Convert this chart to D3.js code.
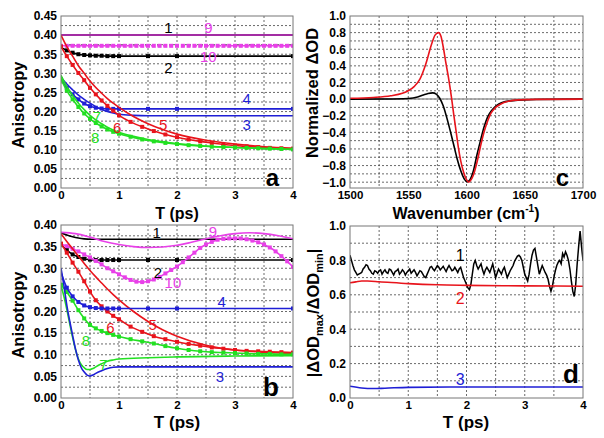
<!DOCTYPE html>
<html><head><meta charset="utf-8">
<script src="https://cdn.jsdelivr.net/npm/d3@7"></script>
<style>body{margin:0;background:#fff} svg{display:block} text{font-family:"Liberation Sans",Arial,sans-serif}</style>
</head><body><svg id="chart" width="604" height="438"></svg>
<script>
// ---------- shared time grids (ps) ----------
const TF  = [0,0.1,0.2,0.3,0.4,0.5,0.6,0.7,0.8,0.9,1.0,1.5,2.0,4.0];
const T19 = [0,0.1,0.2,0.3,0.4,0.5,0.6,0.7,0.8,0.9,1.0,1.25,1.5,1.75,2.0,2.5,3.0,3.5,4.0];
const T26 = [0,0.1,0.2,0.3,0.4,0.5,0.6,0.7,0.8,0.9,1.0,1.2,1.4,1.6,1.8,2.0,2.2,2.4,2.6,2.8,3.0,3.2,3.4,3.6,3.8,4.0];
const T41 = [0,0.1,0.2,0.3,0.4,0.5,0.6,0.7,0.8,0.9,1.0,1.1,1.2,1.3,1.4,1.5,1.6,1.7,1.8,1.9,2.0,2.1,2.2,2.3,2.4,2.5,2.6,2.7,2.8,2.9,3.0,3.1,3.2,3.3,3.4,3.5,3.6,3.7,3.8,3.9,4.0];
const T17 = [0,0.25,0.5,0.75,1.0,1.25,1.5,1.75,2.0,2.25,2.5,2.75,3.0,3.25,3.5,3.75,4.0];
const TB  = [0,0.05,0.1,0.15,0.2,0.25,0.3,0.35,0.4,0.45,0.5,0.55,0.6,0.7,0.8,0.9,1.0,1.5,2.0,3.0,4.0];
const TE  = [0,4];

// ---------- panel a : anisotropy ----------
const a1V  = [0.40,0.40];
const a9V  = [0.40,0.40];
const a10V = [0.372,0.372,0.372,0.372,0.372,0.372,0.372,0.372,0.372,0.372,0.372,0.372,0.372,0.372,0.372,0.372,0.372,0.372,0.372,0.372,0.372,0.372,0.372,0.372,0.372,0.372,0.372,0.372,0.372,0.372,0.372,0.372,0.372,0.372,0.372,0.372,0.372,0.372,0.372,0.372,0.372];
const a2V  = [0.368,0.36,0.354,0.35,0.348,0.347,0.346,0.346,0.345,0.345,0.345,0.345,0.345,0.345];
const a4V  = [0.285,0.262,0.245,0.232,0.221,0.214,0.21,0.208,0.207,0.207,0.207,0.207,0.207,0.207];
const a3V  = [0.29,0.272,0.257,0.243,0.232,0.222,0.213,0.206,0.2,0.196,0.193,0.19,0.189,0.189,0.189,0.189,0.189,0.189,0.189];
const a5V  = [0.40,0.37,0.345,0.32,0.30,0.28,0.263,0.248,0.234,0.222,0.211,0.187,0.168,0.153,0.141,0.125,0.115,0.108,0.104];
const a6V  = [0.37,0.345,0.322,0.301,0.282,0.262,0.245,0.229,0.215,0.202,0.19,0.173,0.16,0.149,0.14,0.133,0.127,0.122,0.118,0.114,0.111,0.109,0.107,0.105,0.104,0.103];
const a7V  = [0.295,0.265,0.242,0.222,0.205,0.19,0.178,0.168,0.159,0.152,0.146,0.135,0.127,0.121,0.116,0.11,0.106,0.103,0.101];
const a8V  = [0.285,0.255,0.232,0.212,0.195,0.181,0.17,0.161,0.153,0.147,0.142,0.134,0.127,0.122,0.118,0.115,0.112,0.11,0.108,0.107,0.106,0.105,0.104,0.103,0.102,0.101];

// ---------- panel b : anisotropy ----------
const b1V  = [0.382,0.377,0.373,0.37,0.368,0.367,0.367,0.367,0.367,0.367,0.367,0.367,0.367,0.367];
const b9V  = [0.383,0.38,0.372,0.362,0.355,0.35,0.348,0.349,0.353,0.36,0.368,0.375,0.38,0.382,0.38,0.375,0.368];
const b2V  = [0.355,0.342,0.332,0.326,0.322,0.32,0.319,0.319,0.319,0.319,0.319,0.319,0.319,0.319];
const b10V = [0.356,0.351,0.345,0.339,0.332,0.325,0.317,0.309,0.300,0.293,0.286,0.279,0.273,0.269,0.268,0.270,0.274,0.280,0.288,0.296,0.304,0.314,0.325,0.336,0.347,0.355,0.361,0.366,0.368,0.369,0.369,0.369,0.367,0.364,0.360,0.355,0.348,0.339,0.328,0.316,0.303];
const b4V  = [0.29,0.255,0.235,0.222,0.214,0.21,0.208,0.207,0.207,0.207,0.207,0.207,0.207,0.207];
const b3V  = [0.30,0.26,0.215,0.178,0.145,0.113,0.088,0.07,0.06,0.053,0.051,0.053,0.057,0.063,0.068,0.071,0.072,0.072,0.072,0.072,0.072];
const b7V  = [0.26,0.235,0.205,0.172,0.14,0.112,0.09,0.077,0.07,0.066,0.066,0.068,0.072,0.079,0.085,0.088,0.09,0.093,0.095,0.097,0.098];
const b8V  = [0.262,0.245,0.225,0.203,0.184,0.169,0.161,0.155,0.15,0.146,0.142,0.136,0.131,0.126,0.12,0.115,0.111,0.108,0.106,0.105,0.104,0.103,0.102,0.102,0.101,0.101];
const b5V  = [0.38,0.362,0.345,0.328,0.311,0.295,0.28,0.266,0.252,0.239,0.227,0.2,0.177,0.158,0.143,0.122,0.111,0.106,0.103];
const b6V  = [0.357,0.336,0.313,0.292,0.27,0.246,0.226,0.212,0.2,0.19,0.182,0.165,0.153,0.143,0.136,0.13,0.125,0.121,0.117,0.114,0.111,0.109,0.108,0.107,0.106,0.105];

// ---------- panel c : spectra ----------
const cRedX = [1500,1520,1535,1545,1550,1555,1560,1565,1570,1573,1576,1578,1580,1582,1584.5,1587,1589,1591,1593,1595,1597.5,1600,1602,1604,1606,1609,1612,1615,1618,1621,1625,1630,1635,1645,1660,1700];
const cRedY = [0.01,0.02,0.04,0.07,0.1,0.15,0.24,0.42,0.66,0.77,0.80,0.76,0.63,0.46,0.26,0.03,-0.18,-0.38,-0.58,-0.74,-0.88,-0.97,-1.0,-0.97,-0.91,-0.76,-0.57,-0.4,-0.27,-0.17,-0.1,-0.055,-0.03,-0.01,-0.004,0];
const cBlkX = [1500,1530,1550,1558,1563,1567,1571,1574,1577,1580,1583,1586,1589,1592,1595,1598,1600.5,1603,1606,1609,1612,1615,1618,1622,1626,1630,1640,1660,1700];
const cBlkY = [0,0.002,0.008,0.025,0.05,0.068,0.075,0.06,0.01,-0.08,-0.22,-0.38,-0.55,-0.72,-0.86,-0.96,-0.995,-0.97,-0.86,-0.67,-0.5,-0.34,-0.22,-0.13,-0.075,-0.045,-0.018,-0.005,0];

// ---------- panel d : |dODmax/dODmin| ----------
const dBlkT = [0,0.025,0.05,0.075,0.1,0.125,0.15,0.175,0.2,0.225,0.25,0.275,0.3,0.325,0.35,0.375,0.4,0.425,0.45,0.475,0.5,0.525,0.55,0.575,0.6,0.625,0.65,0.675,0.7,0.725,0.75,0.775,0.8,0.825,0.85,0.875,0.9,0.925,0.95,0.975,
  1.0,1.025,1.05,1.075,1.1,1.125,1.15,1.175,1.2,1.225,1.25,1.275,1.3,1.325,1.35,1.375,1.4,1.425,1.45,1.475,1.5,1.525,1.55,1.575,1.6,1.625,1.65,1.675,1.7,1.725,1.75,1.775,1.8,1.825,1.85,1.875,1.9,1.925,1.95,1.975,
  2.0,2.025,2.05,2.075,2.1,2.125,2.15,2.175,2.2,2.225,2.25,2.275,2.3,2.325,2.35,2.375,2.4,2.425,2.45,2.475,2.5,2.525,2.55,2.575,2.6,2.625,2.65,2.675,2.7,2.725,2.75,2.775,2.8,2.825,2.85,2.875,2.9,2.925,2.95,2.975,
  3.0,3.025,3.05,3.075,3.1,3.125,3.15,3.175,3.2,3.225,3.25,3.275,3.3,3.325,3.35,3.375,3.4,3.425,3.45,3.475,3.5,3.525,3.55,3.575,3.6,3.625,3.65,3.675,3.7,3.725,3.75,3.775,3.8,3.825,3.85,3.875,3.9,3.925,3.95,3.975,4.0];
const dBlkV = [0.83,0.80,0.77,0.745,0.73,0.715,0.72,0.725,0.73,0.75,0.76,0.775,0.77,0.75,0.74,0.725,0.72,0.74,0.735,0.725,0.74,0.745,0.72,0.735,0.745,0.73,0.725,0.75,0.745,0.73,0.715,0.735,0.74,0.75,0.72,0.73,0.745,0.735,0.715,0.73,
  0.74,0.75,0.725,0.735,0.745,0.73,0.71,0.725,0.74,0.735,0.72,0.705,0.70,0.72,0.74,0.76,0.765,0.75,0.74,0.755,0.77,0.76,0.745,0.755,0.765,0.75,0.735,0.755,0.77,0.755,0.74,0.745,0.76,0.745,0.73,0.75,0.76,0.73,0.70,0.68,
  0.66,0.64,0.63,0.66,0.72,0.78,0.80,0.77,0.75,0.765,0.78,0.745,0.72,0.745,0.76,0.745,0.73,0.755,0.78,0.74,0.70,0.725,0.75,0.735,0.72,0.745,0.76,0.73,0.70,0.72,0.74,0.755,0.77,0.795,0.81,0.825,0.83,0.82,0.80,0.76,
  0.72,0.70,0.68,0.72,0.78,0.83,0.86,0.87,0.82,0.77,0.72,0.745,0.77,0.75,0.73,0.715,0.69,0.65,0.62,0.65,0.70,0.74,0.77,0.79,0.80,0.78,0.84,0.82,0.85,0.83,0.80,0.75,0.68,0.62,0.59,0.66,0.78,0.88,0.97,0.88,0.80];
const dRedT = [0,0.1,0.2,0.3,0.5,1.0,1.5,2.0,3.0,4.0];
const dRedV = [0.67,0.675,0.68,0.68,0.676,0.665,0.658,0.655,0.652,0.65];
const dBluT = [0,0.2,0.4,0.6,1.0,2.0,4.0];
const dBluV = [0.068,0.058,0.055,0.057,0.062,0.064,0.064];

// ---------- tick labels ----------
const tTicks = [0,1,2,3,4];
const aYTicks = [0,0.05,0.10,0.15,0.20,0.25,0.30,0.35,0.40,0.45];
const bYTicks = [0,0.05,0.10,0.15,0.20,0.25,0.30,0.35,0.40];
const cXTicks = [1500,1550,1600,1650,1700];
const cYTicks = [-1.0,-0.8,-0.6,-0.4,-0.2,0.0,0.2,0.4,0.6,0.8,1.0];
const dYTicks = [0,0.2,0.4,0.6,0.8,1.0];

const C = {k:"#000000", r:"#e8141c", b:"#1f1fd6", g:"#22e022", m:"#e840e8"};
const svg = d3.select("#chart");
let clipN = 0;

function panel(o){
  const x = d3.scaleLinear().domain(o.xd).range([o.x0,o.x1]);
  const y = d3.scaleLinear().domain(o.yd).range([o.y1,o.y0]);
  const g = svg.append("g");
  const id = "clip"+(clipN++);
  svg.append("clipPath").attr("id",id).append("rect")
    .attr("x",o.x0).attr("y",o.y0).attr("width",o.x1-o.x0).attr("height",o.y1-o.y0);
  const grid = g.append("g").attr("stroke","#444").attr("stroke-width",0.8).attr("stroke-dasharray","2,2");
  o.xg.forEach(v=>grid.append("line").attr("x1",x(v)).attr("x2",x(v)).attr("y1",o.y0).attr("y2",o.y1));
  o.yg.forEach(v=>grid.append("line").attr("y1",y(v)).attr("y2",y(v)).attr("x1",o.x0).attr("x2",o.x1));
  const ax = g.append("g").attr("transform",`translate(0,${o.y1})`)
    .call(d3.axisBottom(x).tickValues(o.xt).tickFormat(o.xf).tickSize(0).tickPadding(3));
  ax.select(".domain").remove();
  ax.selectAll("text").attr("font-size","11.5px").attr("font-weight","bold").attr("fill","#000")
    .attr("font-family","'Liberation Sans',Arial,sans-serif");
  const ay = g.append("g").attr("transform",`translate(${o.x0},0)`)
    .call(d3.axisLeft(y).tickValues(o.yt).tickFormat(o.yf).tickSize(0).tickPadding(4));
  ay.select(".domain").remove();
  ay.selectAll("text").attr("font-size","12px").attr("font-weight","bold").attr("fill","#000")
    .attr("font-family","'Liberation Sans',Arial,sans-serif");
  const plot = g.append("g").attr("clip-path",`url(#${id})`);
  const frame = ()=> g.append("rect").attr("x",o.x0).attr("y",o.y0).attr("width",o.x1-o.x0).attr("height",o.y1-o.y0)
    .attr("fill","none").attr("stroke","#777").attr("stroke-width",1);
  return {x,y,g,plot,frame};
}

function series(P, xs, vs, color, opts={}){
  const pts = xs.map((t,i)=>[t,vs[i]]);
  const line = d3.line().x(d=>P.x(d[0])).y(d=>P.y(d[1])).curve(opts.curve||d3.curveMonotoneX);
  P.plot.append("path").attr("d",line(pts)).attr("fill","none").attr("stroke",color)
    .attr("stroke-width",opts.w||1.6).attr("stroke-opacity",opts.op||1)
    .attr("stroke-dasharray",opts.dash||null);
  if(opts.marker){
    const mp = opts.skip0 ? pts.filter(d=>d[0]>0) : pts;
    P.plot.selectAll(null).data(mp).enter().append("rect")
      .attr("x",d=>P.x(d[0])-2).attr("y",d=>P.y(d[1])-2).attr("width",4).attr("height",4).attr("fill",color);
  }
}
function label(P, t, v, s, color, size, weight){
  P.g.append("text").attr("x",P.x(t)).attr("y",P.y(v)).attr("text-anchor","middle").attr("dominant-baseline","central")
    .attr("font-size",(size||15)+"px").attr("font-weight",weight||"normal").attr("fill",color).text(s);
}
const r05 = d3.range(0.5,4,0.5);
const f2 = d3.format(".2f"), f1 = d3.format(".1f");

// ===== Panel a =====
const A = panel({xd:[0,4], yd:[0,0.45], x0:61, x1:293, y0:16, y1:188,
  xg:r05, yg:d3.range(0.025,0.45,0.025), xt:tTicks, xf:d3.format("d"), yt:aYTicks, yf:f2});
series(A,TE,a1V,C.k,{w:2});
series(A,TE,a9V,C.m,{w:2,op:0.7});
series(A,T41,a10V,C.m,{marker:true,dash:"4,2"});
series(A,TF,a2V,C.k,{marker:true,skip0:true});
series(A,T19,a3V,C.b);
series(A,TF,a4V,C.b,{marker:true,skip0:true});
series(A,T19,a5V,C.r);
series(A,T26,a6V,C.r,{marker:true});
series(A,T19,a7V,C.g);
series(A,T26,a8V,C.g,{marker:true});
A.frame();
label(A,1.85,0.42,"1",C.k); label(A,2.54,0.42,"9",C.m);
label(A,2.54,0.343,"10",C.m); label(A,1.85,0.314,"2",C.k);
label(A,3.2,0.233,"4",C.b); label(A,3.2,0.165,"3",C.b);
label(A,1.76,0.165,"5",C.r); label(A,0.97,0.157,"6",C.r);
label(A,0.62,0.186,"7",C.g); label(A,0.59,0.133,"8",C.g);
A.g.append("text").attr("x",279).attr("y",186).attr("text-anchor","end").attr("font-size","24px").attr("font-weight","bold").text("a");

// ===== Panel b =====
const B = panel({xd:[0,4], yd:[0,0.40], x0:61, x1:293, y0:225, y1:398,
  xg:r05, yg:d3.range(0.025,0.40,0.025), xt:tTicks, xf:d3.format("d"), yt:bYTicks, yf:f2});
series(B,TF,b1V,C.k);
series(B,T17,b9V,C.m);
series(B,TF,b2V,C.k,{marker:true,skip0:true});
series(B,T41,b10V,C.m,{marker:true});
series(B,T19,b5V,C.r);
series(B,T26,b6V,C.r,{marker:true});
series(B,TB,b7V,C.g);
series(B,T26,b8V,C.g,{marker:true});
series(B,TB,b3V,C.b);
series(B,TF,b4V,C.b,{marker:true,skip0:true});
B.frame();
label(B,1.65,0.383,"1",C.k); label(B,2.62,0.386,"9",C.m);
label(B,1.67,0.29,"2",C.k); label(B,1.93,0.268,"10",C.m);
label(B,2.77,0.222,"4",C.b); label(B,1.58,0.169,"5",C.r);
label(B,0.85,0.162,"6",C.r); label(B,0.43,0.134,"8",C.g);
label(B,0.73,0.078,"7",C.g); label(B,2.74,0.05,"3",C.b);
B.g.append("text").attr("x",279).attr("y",396).attr("text-anchor","end").attr("font-size","26px").attr("font-weight","bold").text("b");

// ===== Panel c =====
const Cp = panel({xd:[1500,1700], yd:[-1.07,1.0], x0:350, x1:583, y0:16, y1:188,
  xg:d3.range(1525,1700,25), yg:d3.range(-1.0,1.0,0.1).map(v=>+v.toFixed(2)), xt:cXTicks, xf:d3.format("d"), yt:cYTicks, yf:f1});
Cp.plot.append("line").attr("x1",350).attr("x2",583).attr("y1",Cp.y(0)).attr("y2",Cp.y(0)).attr("stroke","#999").attr("stroke-width",1.5);
series(Cp,cBlkX,cBlkY,C.k);
series(Cp,cRedX,cRedY,C.r);
Cp.frame();
Cp.g.append("text").attr("x",569).attr("y",186).attr("text-anchor","end").attr("font-size","24px").attr("font-weight","bold").text("c");

// ===== Panel d =====
const D = panel({xd:[0,4], yd:[0,1.0], x0:350, x1:583, y0:226, y1:398,
  xg:r05, yg:d3.range(0.1,1.0,0.1), xt:tTicks, xf:d3.format("d"), yt:dYTicks, yf:f1});
series(D,dBlkT,dBlkV,C.k,{curve:d3.curveLinear,w:1.5});
series(D,dRedT,dRedV,C.r);
series(D,dBluT,dBluV,C.b);
D.frame();
label(D,1.89,0.83,"1",C.k,16); label(D,1.89,0.58,"2",C.r,16); label(D,1.89,0.105,"3",C.b,16);
D.g.append("text").attr("x",579).attr("y",383).attr("text-anchor","end").attr("font-size","26px").attr("font-weight","bold").text("d");

// ===== axis titles =====
function ytitle(x,yc,build){
  const t = svg.append("text").attr("transform",`translate(${x},${yc}) rotate(-90)`).attr("text-anchor","middle")
    .attr("font-size","16.5px").attr("font-weight","bold");
  build(t);
}
ytitle(24,105,t=>t.text("Anisotropy"));
ytitle(24,315,t=>t.text("Anisotropy"));
ytitle(318,93,t=>t.text("Normalized \u0394OD"));
ytitle(319,313,t=>{
  t.append("tspan").text("|\u0394OD");
  t.append("tspan").attr("font-size","11px").attr("dy",4).text("max");
  t.append("tspan").attr("dy",-4).text("/\u0394OD");
  t.append("tspan").attr("font-size","11px").attr("dy",4).text("min");
  t.append("tspan").attr("dy",-4).text("|");
});
function xtitle(xc,y,size,build){
  const t = svg.append("text").attr("x",xc).attr("y",y).attr("text-anchor","middle").attr("font-size",size+"px").attr("font-weight","bold");
  build(t);
}
xtitle(177,219,16,t=>t.text("T (ps)"));
xtitle(177,428,17,t=>t.text("T (ps)"));
xtitle(466,428,17,t=>t.text("T (ps)"));
xtitle(466,219,16,t=>{
  t.append("tspan").text("Wavenumber (cm");
  t.append("tspan").attr("font-size","10px").attr("dy",-7).text("-1");
  t.append("tspan").attr("dy",7).text(")");
});
</script></body></html>
